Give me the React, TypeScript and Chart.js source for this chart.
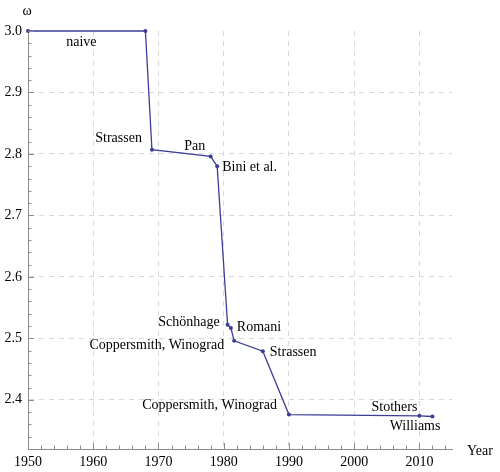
import { useEffect, useRef } from "react";
import { Chart, registerables, type Plugin } from "chart.js";

Chart.register(...registerables);

// year of each result and the exponent omega it reached
const years = [1950, 1968, 1969, 1978, 1979, 1980.6, 1981.1, 1981.6, 1986, 1990, 2010, 2012];
const omega = [3.0, 3.0, 2.807, 2.796, 2.78, 2.522, 2.517, 2.496, 2.479, 2.376, 2.374, 2.3729];
const pointLabels = [
  "",
  "naive",
  "Strassen",
  "Pan",
  "Bini et al.",
  "Schönhage",
  "Romani",
  "Coppersmith, Winograd",
  "Strassen",
  "Coppersmith, Winograd",
  "Stothers",
  "Williams",
];
const xTicks = [1950, 1960, 1970, 1980, 1990, 2000, 2010];
const yTicks = [2.4, 2.5, 2.6, 2.7, 2.8, 2.9, 3.0];

// pixel offsets of each annotation from its point: [dx, dy, align]
const labelPlacement: [number, number, CanvasTextAlign][] = [
  [0, 0, "left"],
  [-64, 11, "center"],
  [-10, -11, "right"],
  [-16, -10, "center"],
  [5, 1, "left"],
  [-8, -3, "right"],
  [6, -1, "left"],
  [-10, 5, "right"],
  [7, 1.5, "left"],
  [-12, -9.5, "right"],
  [-2, -8.5, "right"],
  [8, 10, "right"],
];

const SERIF = "'Liberation Serif', 'Times New Roman', serif";
const LINE = "#3d3d99";
const AXIS = "#8c8c8c";

const decorations: Plugin<"line"> = {
  id: "decorations",
  afterDraw(chart) {
    const { ctx, chartArea } = chart;
    const xs = chart.scales.x;
    const ys = chart.scales.y;
    ctx.save();
    ctx.strokeStyle = AXIS;
    ctx.lineWidth = 1;
    ctx.beginPath();
    // y ticks, inside the plot
    for (let i = 1; i <= 34; i++) {
      const v = 2.32 + i * 0.02;
      const major = Math.abs(v * 10 - Math.round(v * 10)) < 1e-6;
      const py = Math.round(ys.getPixelForValue(v)) + 0.5;
      ctx.moveTo(chartArea.left, py);
      ctx.lineTo(chartArea.left + (major ? 6 : 3.5), py);
    }
    // x ticks
    for (let yr = 1950; yr <= 2014; yr += 2) {
      const major = yr % 10 === 0;
      const px = Math.round(xs.getPixelForValue(yr)) + 0.5;
      ctx.moveTo(px, chartArea.bottom);
      ctx.lineTo(px, chartArea.bottom - (major ? 6 : 3.5));
    }
    ctx.stroke();

    ctx.fillStyle = "#000";
    ctx.font = `14px ${SERIF}`;
    ctx.textBaseline = "middle";
    years.forEach((yr, i) => {
      const text = pointLabels[i];
      if (!text) return;
      const [dx, dy, align] = labelPlacement[i];
      ctx.textAlign = align;
      ctx.fillText(text, xs.getPixelForValue(yr) + dx, ys.getPixelForValue(omega[i]) + dy);
    });

    ctx.textAlign = "center";
    ctx.fillText("ω", chartArea.left - 1, 11);
    ctx.textAlign = "left";
    ctx.fillText("Year", 467, 451);
    ctx.restore();
  },
};

export default function App() {
  const canvasRef = useRef<HTMLCanvasElement>(null);
  const chartRef = useRef<Chart<"line"> | null>(null);

  useEffect(() => {
    if (!canvasRef.current) return;
    if (chartRef.current) chartRef.current.destroy();

    chartRef.current = new Chart(canvasRef.current, {
      type: "line",
      data: {
        datasets: [
          {
            data: years.map((x, i) => ({ x, y: omega[i] })),
            borderColor: LINE,
            backgroundColor: LINE,
            borderWidth: 1.3,
            pointRadius: 2,
            pointBorderWidth: 0,
            tension: 0,
            clip: false,
          },
        ],
      },
      options: {
        responsive: true,
        maintainAspectRatio: false,
        animation: false,
        layout: { padding: { top: 31, right: 48, left: 0, bottom: 0 } },
        plugins: { legend: { display: false }, tooltip: { enabled: false } },
        scales: {
          x: {
            type: "linear",
            min: 1950,
            max: 2015,
            afterBuildTicks: (s) => {
              s.ticks = xTicks.map((value) => ({ value }));
            },
            afterFit: (s) => {
              s.height = 23;
            },
            grid: {
              color: (c) => (c.tick && c.tick.value === 1950 ? "transparent" : "#d9d9d9"),
              drawTicks: false,
            },
            border: { display: true, color: AXIS, dash: [5, 5] },
            ticks: {
              padding: 5,
              color: "#000",
              font: { family: SERIF, size: 14 },
              callback: (v) => String(v),
            },
          },
          y: {
            type: "linear",
            min: 2.32,
            max: 3.0,
            afterBuildTicks: (s) => {
              s.ticks = yTicks.map((value) => ({ value }));
            },
            afterFit: (s) => {
              s.width = 28;
            },
            grid: {
              color: (c) => (c.tick && c.tick.value === 3 ? "transparent" : "#d9d9d9"),
              drawTicks: false,
            },
            border: { display: true, color: AXIS, dash: [5, 5] },
            ticks: {
              padding: 6,
              color: "#000",
              font: { family: SERIF, size: 14 },
              callback: (v) => Number(v).toFixed(1),
            },
          },
        },
      },
      plugins: [decorations],
    });

    return () => chartRef.current?.destroy();
  }, []);

  return (
    <div style={{ position: "absolute", left: 0, top: 0, width: 500, height: 472, background: "#fff" }}>
      <canvas ref={canvasRef} role="img" aria-label="Exponent of matrix multiplication over time" />
    </div>
  );
}
